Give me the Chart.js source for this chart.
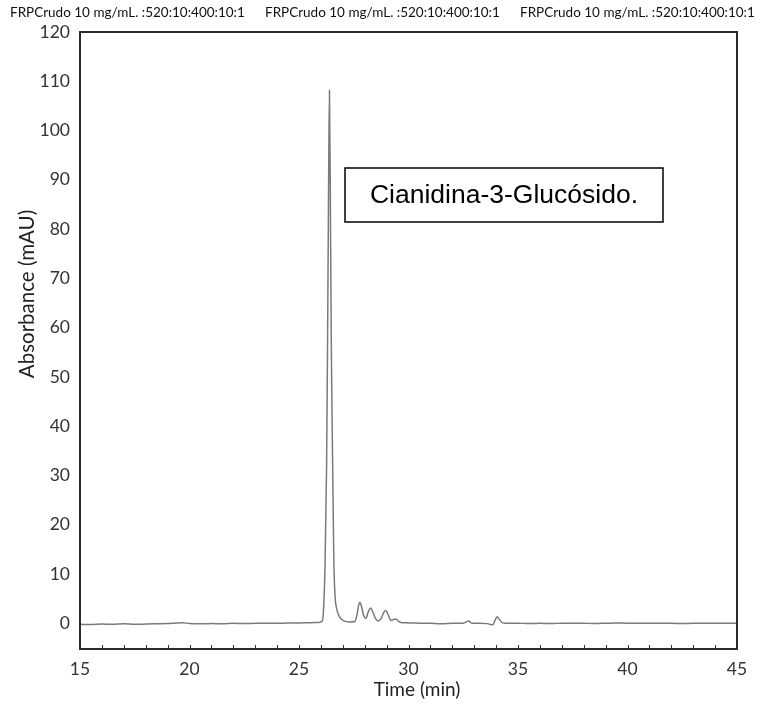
<!DOCTYPE html>
<html>
<head>
<meta charset="utf-8">
<script src="https://cdn.jsdelivr.net/npm/chart.js@4/dist/chart.umd.min.js"></script>
<style>
  html, body { margin: 0; padding: 0; background: #ffffff; }
  #wrap { width: 764px; height: 710px; }
</style>
</head>
<body>
<div id="wrap"><canvas id="chrom" width="764" height="710"></canvas></div>
<script>
// Chromatogram trace: retention time (min) and detector response (mAU)
const timeMin = [
  15.0, 15.5, 16.0, 16.5, 17.0, 17.5, 18.0, 18.5, 19.0, 19.4, 19.7, 20.0,
  20.5, 21.0, 21.5, 22.0, 22.5, 23.0, 23.5, 24.0, 24.5, 25.0, 25.5, 25.9,
  26.05, 26.11, 26.19, 26.26, 26.30, 26.35, 26.39, 26.44, 26.48, 26.54, 26.59, 26.64,
  26.73, 26.87, 27.05, 27.3, 27.55, 27.65, 27.72, 27.78, 27.85, 27.95, 28.05, 28.15,
  28.27, 28.38, 28.5, 28.62, 28.75, 28.88, 28.97, 29.07, 29.2, 29.32, 29.42, 29.55,
  29.7, 30.0, 30.5, 31.0, 31.5, 32.0, 32.5, 32.75, 32.9, 33.2, 33.6, 33.85,
  33.95, 34.05, 34.15, 34.3, 34.6, 35.0, 35.5, 36.0, 36.5, 37.0, 37.5, 38.0,
  38.5, 39.0, 39.5, 40.0, 40.5, 41.0, 41.5, 42.0, 42.5, 43.0, 43.5, 44.0,
  44.5, 45.0
];
const absorbance = [
  -0.2, -0.25, -0.15, -0.2, -0.1, -0.2, -0.15, -0.1, -0.05, 0.1, 0.15, -0.05,
  -0.1, -0.05, -0.1, 0.0, -0.05, 0.0, 0.05, 0.0, 0.1, 0.1, 0.15, 0.2,
  0.4, 2.0, 12.0, 32.0, 54.0, 88.0, 108.2, 80.0, 54.0, 31.0, 13.0, 6.0,
  2.8, 1.2, 0.5, 0.3, 0.4, 1.8, 3.6, 4.3, 3.5, 1.6, 1.0, 2.2,
  3.1, 2.2, 0.9, 0.5, 1.0, 2.3, 2.6, 1.8, 0.6, 0.8, 0.9, 0.4,
  0.15, 0.1, 0.05, 0.0, -0.1, 0.0, 0.05, 0.5, 0.0, 0.05, -0.05, -0.3,
  0.6, 1.35, 0.8, 0.1, 0.0, 0.05, -0.05, 0.0, -0.05, 0.05, 0.0, 0.05,
  -0.05, 0.05, 0.1, 0.05, 0.05, 0.05, 0.0, 0.0, -0.05, 0.0, 0.0, 0.05,
  0.0, 0.05
];

// Axis tick labels
const xTickValues = [15, 20, 25, 30, 35, 40, 45];
const yTickValues = [0, 10, 20, 30, 40, 50, 60, 70, 80, 90, 100, 110, 120];

// Texts
const runLabel = 'FRPCrudo 10 mg/mL. :520:10:400:10:1';
const runLabelRepeats = 3;
const peakName = 'Cianidina-3-Glucósido.';
const xTitle = 'Time (min)';
const yTitle = 'Absorbance (mAU)';

const points = timeMin.map((t, i) => ({ x: t, y: absorbance[i] }));

const tickFont = { family: 'Lato, "Open Sans", sans-serif', size: 17.5 };
const tickColor = '#333333';

// Frame, inner minute ticks, header line, axis titles and peak label box
const decorations = {
  id: 'decorations',
  afterDraw(chart) {
    const { ctx, chartArea: a, scales } = chart;
    ctx.save();

    // minute ticks along the bottom edge, pointing inward
    ctx.strokeStyle = '#333333';
    ctx.lineWidth = 1;
    for (let t = 16; t < 45; t++) {
      const px = Math.round(scales.x.getPixelForValue(t)) + 0.5;
      ctx.beginPath();
      ctx.moveTo(px, a.bottom);
      ctx.lineTo(px, a.bottom - 4);
      ctx.stroke();
    }

    // plot frame
    ctx.strokeStyle = '#2b2b2b';
    ctx.lineWidth = 2;
    ctx.strokeRect(a.left, a.top, a.right - a.left, a.bottom - a.top);

    // run description repeated across the top
    ctx.fillStyle = '#111111';
    ctx.font = '13.5px Lato, "Open Sans", sans-serif';
    ctx.textBaseline = 'middle';
    ctx.textAlign = 'left';
    for (let k = 0; k < runLabelRepeats; k++) {
      ctx.fillText(runLabel, 10 + k * 255, 13);
    }

    // axis titles
    ctx.fillStyle = '#222222';
    ctx.font = '19px Lato, "Open Sans", sans-serif';
    ctx.textAlign = 'center';
    ctx.fillText(xTitle, 417, 690);
    ctx.save();
    ctx.translate(27, 294);
    ctx.rotate(-Math.PI / 2);
    ctx.font = '20.5px Lato, "Open Sans", sans-serif';
    ctx.fillText(yTitle, 0, 0);
    ctx.restore();

    // peak identification box
    const bx = 345, by = 168, bw = 318, bh = 54;
    ctx.fillStyle = '#ffffff';
    ctx.fillRect(bx, by, bw, bh);
    ctx.strokeStyle = '#000000';
    ctx.lineWidth = 1.5;
    ctx.strokeRect(bx, by, bw, bh);
    ctx.fillStyle = '#000000';
    ctx.font = '26.5px "Liberation Sans", Arial, sans-serif';
    ctx.fillText(peakName, bx + bw / 2, by + bh / 2 + 1);

    ctx.restore();
  }
};

new Chart(document.getElementById('chrom'), {
  type: 'line',
  data: {
    datasets: [{
      data: points,
      borderColor: '#7a7a7a',
      borderWidth: 1.5,
      pointRadius: 0,
      fill: false,
      cubicInterpolationMode: 'monotone'
    }]
  },
  options: {
    responsive: false,
    animation: false,
    layout: { padding: { top: 32, right: 27, bottom: 0, left: 0 } },
    plugins: { legend: { display: false }, tooltip: { enabled: false } },
    scales: {
      x: {
        type: 'linear',
        min: 15,
        max: 45,
        afterBuildTicks: (s) => { s.ticks = xTickValues.map(v => ({ value: v })); },
        afterFit: (s) => { s.height = 61; },
        grid: { display: false, drawTicks: false },
        border: { display: false },
        ticks: { font: tickFont, color: tickColor, padding: 10, maxRotation: 0 }
      },
      y: {
        type: 'linear',
        min: -5.2,
        max: 120,
        afterBuildTicks: (s) => { s.ticks = yTickValues.map(v => ({ value: v })); },
        afterFit: (s) => { s.width = 80; },
        grid: { display: false, drawTicks: false },
        border: { display: false },
        ticks: { font: tickFont, color: tickColor, padding: 10 }
      }
    }
  },
  plugins: [decorations]
});
</script>
</body>
</html>
